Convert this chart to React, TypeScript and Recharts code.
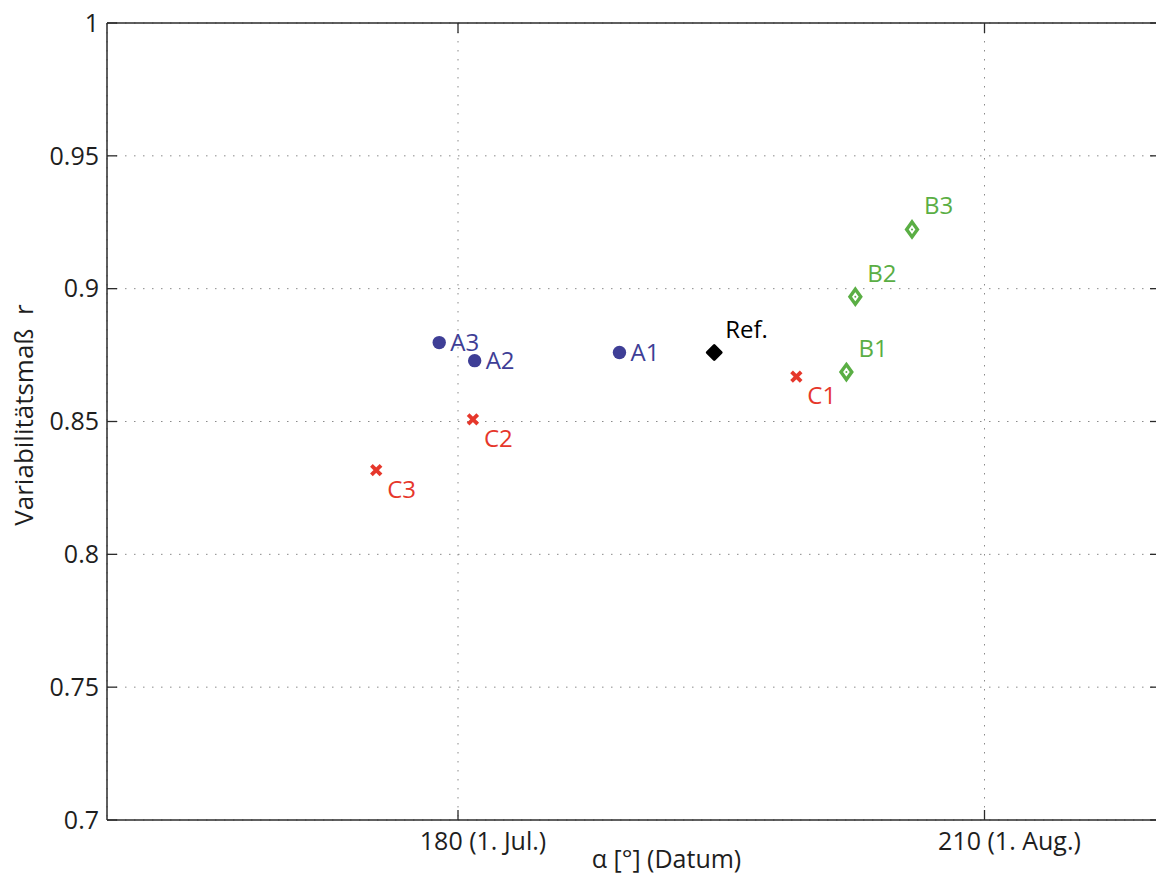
import React from 'react';
import { ScatterChart, Scatter, XAxis, YAxis, CartesianGrid } from 'recharts';

// ---- data ----
const aNames = ['A1', 'A2', 'A3'];
const aX = [189.2, 180.95, 178.93];
const aY = [0.876, 0.8729, 0.8797];

const bNames = ['B1', 'B2', 'B3'];
const bX = [202.13, 202.64, 205.87];
const bY = [0.8686, 0.897, 0.9223];

const cNames = ['C1', 'C2', 'C3'];
const cX = [199.28, 180.85, 175.34];
const cY = [0.8669, 0.8508, 0.8317];

const refNames = ['Ref.'];
const refX = [194.6];
const refY = [0.876];

const xTicks = [180, 210];
const xTickLabels = ['180 (1. Jul.)', '210 (1. Aug.)'];
const yTicks = [0.7, 0.75, 0.8, 0.85, 0.9, 0.95, 1];
const xDomain = [160, 220];
const yDomain = [0.7, 1];

const xTitle = 'α [°] (Datum)';
const yTitle = 'Variabilitätsmaß\u00a0\u00a0r';

// ---- style ----
const FONT = '"Open Sans", "DejaVu Sans", sans-serif';
const AXIS = '#2b2b2b';
const TXT = '#1e1e1e';
const BLUE = '#3e3e96';
const GREEN = '#5aae44';
const RED = '#e6372b';
const BLACK = '#000000';

const zip = (names: string[], xs: number[], ys: number[]) =>
  names.map((n, i) => ({ name: n, x: xs[i], y: ys[i] }));

const dataA = zip(aNames, aX, aY);
const dataB = zip(bNames, bX, bY);
const dataC = zip(cNames, cX, cY);
const dataRef = zip(refNames, refX, refY);

const labelText = (x: number, y: number, s: string, color: string) => (
  <text x={x} y={y} fontSize={24} fill={color} fontFamily={FONT}>
    {s}
  </text>
);

const CircleShape = (props: any) => {
  const { cx, cy, payload } = props;
  return (
    <g>
      <circle cx={cx} cy={cy} r={6.7} fill={BLUE} />
      {labelText(cx + 11, cy + 8.5, payload.name, BLUE)}
    </g>
  );
};

const RefShape = (props: any) => {
  const { cx, cy, payload } = props;
  const h = 7;
  return (
    <g>
      <polygon
        points={`${cx},${cy - h} ${cx + h},${cy} ${cx},${cy + h} ${cx - h},${cy}`}
        fill={BLACK}
        stroke={BLACK}
        strokeWidth={2.8}
        strokeLinejoin="round"
      />
      {labelText(cx + 11, cy - 14, payload.name, BLACK)}
    </g>
  );
};

const DiamondShape = (props: any) => {
  const { cx, cy, payload } = props;
  const w = 5.4;
  const h = 7.5;
  return (
    <g>
      <polygon
        points={`${cx},${cy - h} ${cx + w},${cy} ${cx},${cy + h} ${cx - w},${cy}`}
        fill="#ffffff"
        stroke={GREEN}
        strokeWidth={3.4}
        strokeLinejoin="miter"
      />
      <circle cx={cx} cy={cy} r={1} fill={GREEN} />
      {labelText(cx + 12, cy - 15, payload.name, GREEN)}
    </g>
  );
};

const CrossShape = (props: any) => {
  const { cx, cy, payload } = props;
  const d = 4.8;
  return (
    <g>
      <line x1={cx - d} y1={cy - d} x2={cx + d} y2={cy + d} stroke={RED} strokeWidth={3.8} />
      <line x1={cx - d} y1={cy + d} x2={cx + d} y2={cy - d} stroke={RED} strokeWidth={3.8} />
      {labelText(cx + 11, cy + 27.5, payload.name, RED)}
    </g>
  );
};

const LeftTick = (props: any) => {
  const { x, y, payload } = props;
  return (
    <g>
      <line x1={x} y1={y} x2={x + 10} y2={y} stroke={AXIS} strokeWidth={1.3} />
      <text x={x - 8} y={y} dy="0.35em" textAnchor="end" fontSize={25} fill={TXT} fontFamily={FONT}>
        {String(payload.value)}
      </text>
    </g>
  );
};

const RightTick = (props: any) => {
  const { x, y } = props;
  return <line x1={x} y1={y} x2={x - 10} y2={y} stroke={AXIS} strokeWidth={1.3} />;
};

const TopTick = (props: any) => {
  const { x, y } = props;
  return <line x1={x} y1={y} x2={x} y2={y + 10} stroke={AXIS} strokeWidth={1.3} />;
};

const BottomTick = (props: any) => {
  const { x, y, payload } = props;
  const idx = xTicks.indexOf(payload.value);
  return (
    <g>
      <line x1={x} y1={y} x2={x} y2={y - 10} stroke={AXIS} strokeWidth={1.3} />
      <text x={x + 25} y={y + 30} textAnchor="middle" fontSize={25} fill={TXT} fontFamily={FONT}>
        {idx >= 0 ? xTickLabels[idx] : String(payload.value)}
      </text>
    </g>
  );
};

const XTitle = (props: any) => {
  const vb = props.viewBox || { x: 107, width: 1053 };
  return (
    <text x={vb.x + vb.width / 2 + 33} y={868} textAnchor="middle" fontSize={25} fill={TXT} fontFamily={FONT}>
      {xTitle}
    </text>
  );
};

const YTitle = () => (
  <text
    x={33}
    y={415}
    transform="rotate(-90 33 415)"
    textAnchor="middle"
    fontSize={26}
    fill={TXT}
    fontFamily={FONT}
  >
    {yTitle}
  </text>
);

export default function App() {
  return (
    <div
      style={{
        position: 'absolute',
        left: 0,
        top: 0,
        width: 1156,
        height: 877,
        overflow: 'hidden',
        background: '#ffffff',
      }}
    >
      <ScatterChart
        width={1170}
        height={877}
        margin={{ top: 0, right: 0, bottom: 0, left: 0 }}
        style={{ fontFamily: FONT }}
      >
        <CartesianGrid stroke="#8a8a8a" strokeWidth={1} strokeDasharray="1.5 7.5" />
        <XAxis
          dataKey="x"
          type="number"
          domain={xDomain}
          ticks={xTicks}
          allowDataOverflow
          height={57}
          interval={0}
          tickSize={0}
          tickMargin={0}
          tickLine={false}
          axisLine={{ stroke: AXIS, strokeWidth: 1.5 }}
          tick={<BottomTick />}
          label={<XTitle />}
        />
        <XAxis
          xAxisId="top"
          orientation="top"
          dataKey="x"
          type="number"
          domain={xDomain}
          ticks={xTicks}
          allowDataOverflow
          height={23}
          interval={0}
          tickSize={0}
          tickMargin={0}
          tickLine={false}
          axisLine={{ stroke: AXIS, strokeWidth: 1.5 }}
          tick={<TopTick />}
        />
        <YAxis
          dataKey="y"
          type="number"
          domain={yDomain}
          ticks={yTicks}
          allowDataOverflow
          width={107}
          interval={0}
          tickSize={0}
          tickMargin={0}
          tickLine={false}
          axisLine={{ stroke: AXIS, strokeWidth: 1.5 }}
          tick={<LeftTick />}
          label={<YTitle />}
        />
        <YAxis
          yAxisId="right"
          orientation="right"
          dataKey="y"
          type="number"
          domain={yDomain}
          ticks={yTicks}
          allowDataOverflow
          width={10}
          interval={0}
          tickSize={0}
          tickMargin={0}
          tickLine={false}
          axisLine={{ stroke: AXIS, strokeWidth: 1.5 }}
          tick={<RightTick />}
        />
        <Scatter data={dataC} shape={CrossShape} isAnimationActive={false} />
        <Scatter data={dataA} shape={CircleShape} isAnimationActive={false} />
        <Scatter data={dataB} shape={DiamondShape} isAnimationActive={false} />
        <Scatter data={dataRef} shape={RefShape} isAnimationActive={false} />
      </ScatterChart>
    </div>
  );
}
